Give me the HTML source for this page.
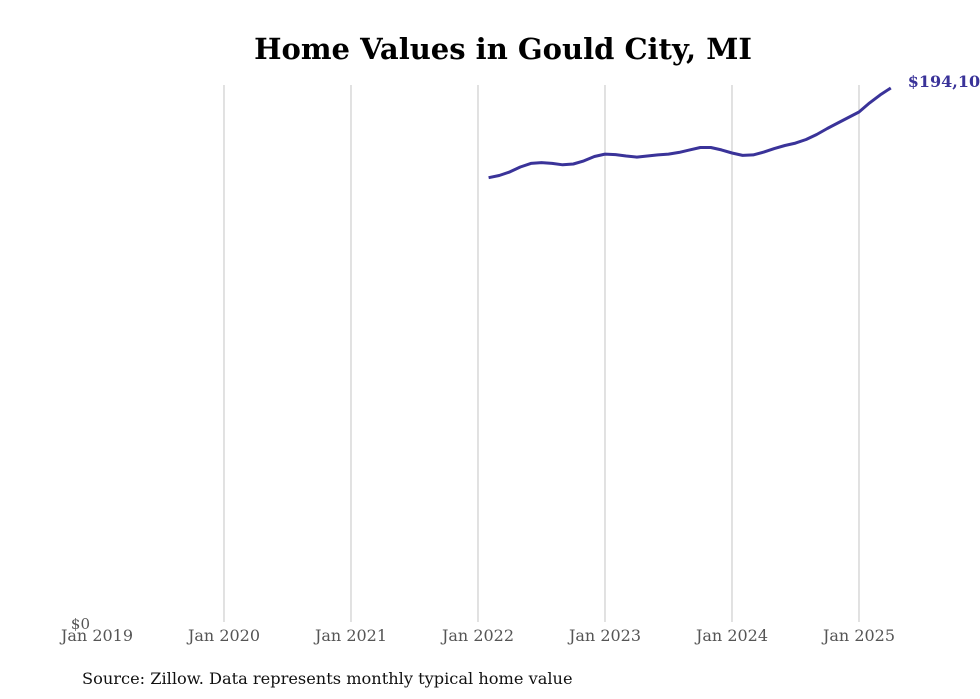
<!DOCTYPE html>
<html><head><meta charset="utf-8"><style>
body{margin:0;background:#fff;}
svg{display:block;font-family:"DejaVu Serif","Liberation Serif",serif;}
</style></head><body>
<svg id="chart" width="980" height="699" viewBox="0 0 980 699">
<text x="503" y="59" text-anchor="middle" font-size="29" font-weight="bold" fill="#000">Home Values in Gould City, MI</text>
<g id="grid"></g>
<g id="xlabels"></g>
<text x="90" y="629" text-anchor="end" font-size="15" fill="#555">$0</text>
<path id="line" fill="none" stroke="#3a3399" stroke-width="3" stroke-linejoin="round"/>
<text id="endlabel" font-size="16" font-weight="bold" fill="#3a3399"></text>
<text x="82" y="684" font-size="16.2" fill="#111">Source: Zillow. Data represents monthly typical home value</text>
</svg>
<script>
const tickYears=[2019,2020,2021,2022,2023,2024,2025];
const tickLabels=["Jan 2019","Jan 2020","Jan 2021","Jan 2022","Jan 2023","Jan 2024","Jan 2025"];
const startYear=2022, startMonth=1; // Feb 2022 (0-based month)
const values=[161500,162300,163600,165400,166700,167000,166700,166200,166500,167600,169200,170100,169900,169400,169000,169400,169800,170100,170700,171600,172500,172500,171600,170500,169600,169800,170800,172100,173200,174100,175400,177200,179400,181400,183400,185400,188700,191600,194100];
const x0=97, pxPerYear=127, y0=622, pxPerK=2.751;
const xs=t=>x0+(t-2019)*pxPerYear;
const ys=v=>y0-v/1000*pxPerK;
const ns="http://www.w3.org/2000/svg";
const grid=document.getElementById('grid'), xl=document.getElementById('xlabels');
tickYears.forEach((yr,i)=>{
  if(i>0){const l=document.createElementNS(ns,'line');
  l.setAttribute('x1',xs(yr));l.setAttribute('x2',xs(yr));l.setAttribute('y1',85);l.setAttribute('y2',622);
  l.setAttribute('stroke','#b5b5b5');l.setAttribute('stroke-width','0.8');
  
  
  grid.appendChild(l);}
  const t=document.createElementNS(ns,'text');
  t.setAttribute('x',xs(yr));t.setAttribute('y',641);t.setAttribute('text-anchor','middle');
  t.setAttribute('font-size','16');t.setAttribute('fill','#555');t.textContent=tickLabels[i];
  
  
  xl.appendChild(t);
});
let d='';
values.forEach((v,i)=>{const t=startYear+(startMonth+i)/12;d+=(i?'L':'M')+xs(t).toFixed(1)+' '+ys(v).toFixed(1);});
document.getElementById('line').setAttribute('d',d);
const last=values[values.length-1], lt=startYear+(startMonth+values.length-1)/12;
const el=document.getElementById('endlabel');
el.setAttribute('x',xs(lt)+17);el.setAttribute('y',ys(last)-1);
el.textContent='$'+last.toLocaleString('en-US');
</script>
</body></html>
